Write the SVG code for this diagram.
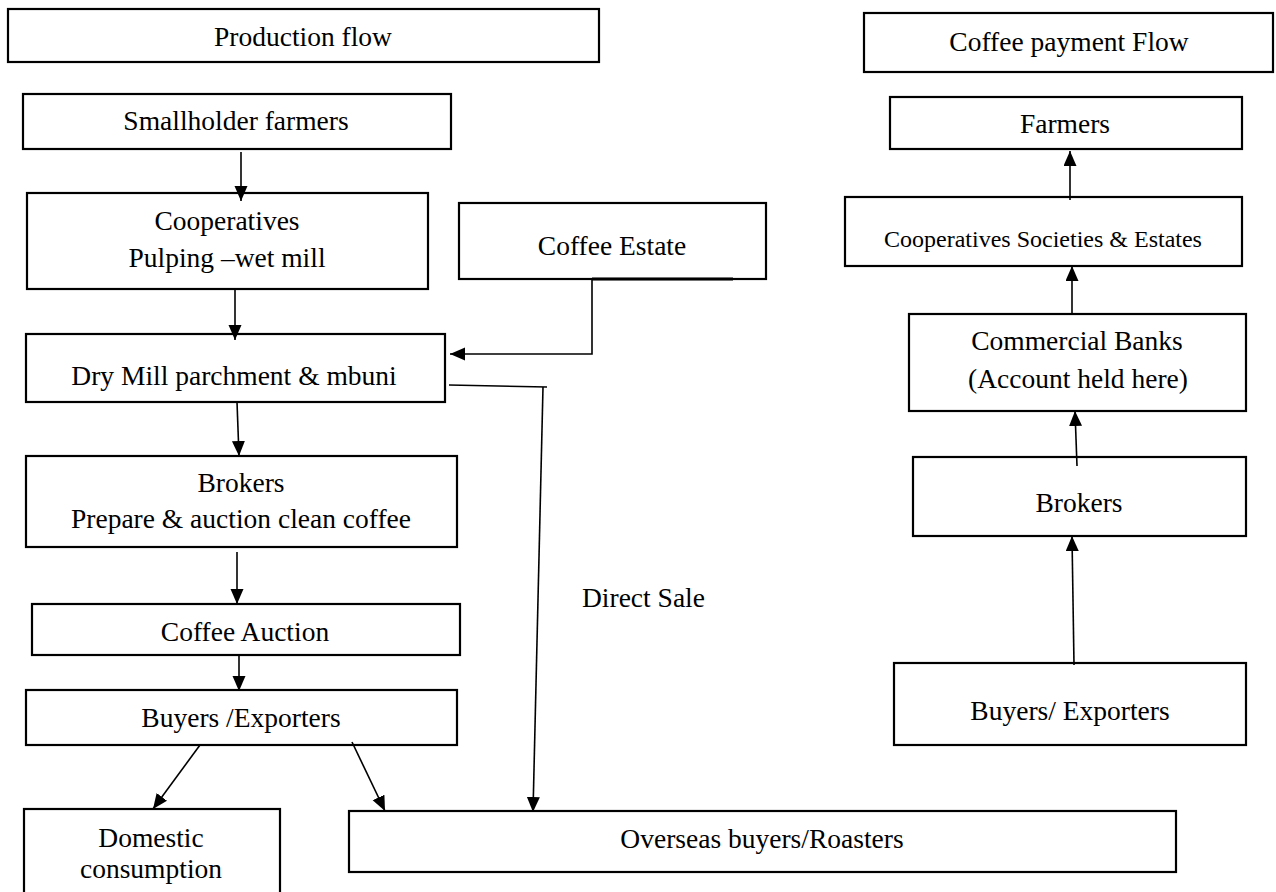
<svg xmlns="http://www.w3.org/2000/svg" width="1276" height="892" viewBox="0 0 1276 892">
<style>
  .box { fill: #ffffff; stroke: #000000; stroke-width: 2.2; }
  .t { font-family: "Liberation Serif", "Times New Roman", serif; font-size: 27.5px; fill: #000000; text-anchor: middle; }
  .ts { font-size: 24px; }
  .c { fill: none; stroke: #000000; stroke-width: 1.6; }
  .arr { marker-end: url(#ah); }
</style>
<defs>
  <marker id="ah" markerUnits="userSpaceOnUse" markerWidth="16" markerHeight="14" refX="15" refY="6.5" orient="auto">
    <path d="M0,0 L15,6.5 L0,13 z" fill="#000000"/>
  </marker>
</defs>
<rect width="1276" height="892" fill="#ffffff"/>

<g id="production-flow-title">
  <rect class="box" x="8" y="9" width="591" height="53"/>
  <text class="t" x="303" y="46">Production flow</text>
</g>
<g id="smallholder-farmers">
  <rect class="box" x="23" y="94" width="428" height="55"/>
  <text class="t" x="236" y="130">Smallholder farmers</text>
</g>
<g id="cooperatives">
  <rect class="box" x="27" y="193" width="401" height="96"/>
  <text class="t" x="227" y="230">Cooperatives</text>
  <text class="t" x="227" y="267">Pulping –wet mill</text>
</g>
<g id="coffee-estate">
  <rect class="box" x="459" y="203" width="307" height="76"/>
  <line x1="592" y1="279" x2="733" y2="279" stroke="#000000" stroke-width="3.2"/>
  <text class="t" x="612" y="255">Coffee Estate</text>
</g>
<g id="dry-mill">
  <rect class="box" x="26" y="334" width="419" height="68"/>
  <text class="t" x="234" y="385">Dry Mill parchment &amp; mbuni</text>
</g>
<g id="brokers-left">
  <rect class="box" x="26" y="456" width="431" height="91"/>
  <text class="t" x="241" y="492">Brokers</text>
  <text class="t" x="241" y="528">Prepare &amp; auction clean coffee</text>
</g>
<g id="coffee-auction">
  <rect class="box" x="32" y="604" width="428" height="51"/>
  <text class="t" x="245" y="641">Coffee Auction</text>
</g>
<g id="buyers-exporters-left">
  <rect class="box" x="26" y="690" width="431" height="55"/>
  <text class="t" x="241" y="727">Buyers /Exporters</text>
</g>
<g id="domestic-consumption">
  <rect class="box" x="24" y="809" width="256" height="95"/>
  <text class="t" x="151" y="847">Domestic</text>
  <text class="t" x="151" y="878">consumption</text>
</g>
<g id="overseas-buyers">
  <rect class="box" x="349" y="811" width="827" height="61"/>
  <text class="t" x="762" y="848">Overseas buyers/Roasters</text>
</g>
<g id="direct-sale-label">
  <text class="t" x="582" y="607" style="text-anchor:start">Direct Sale</text>
</g>

<g id="payment-flow-title">
  <rect class="box" x="864" y="13" width="409" height="59"/>
  <text class="t" x="1069" y="51">Coffee payment Flow</text>
</g>
<g id="farmers">
  <rect class="box" x="890" y="97" width="352" height="52"/>
  <text class="t" x="1065" y="133">Farmers</text>
</g>
<g id="cooperative-societies">
  <rect class="box" x="845" y="197" width="397" height="69"/>
  <text class="t ts" x="1043" y="247">Cooperatives Societies &amp; Estates</text>
</g>
<g id="commercial-banks">
  <rect class="box" x="909" y="314" width="337" height="97"/>
  <text class="t" x="1077" y="350">Commercial Banks</text>
  <text class="t" x="1078" y="388">(Account held here)</text>
</g>
<g id="brokers-right">
  <rect class="box" x="913" y="457" width="333" height="79"/>
  <text class="t" x="1079" y="512">Brokers</text>
</g>
<g id="buyers-exporters-right">
  <rect class="box" x="894" y="663" width="352" height="82"/>
  <text class="t" x="1070" y="720">Buyers/ Exporters</text>
</g>

<g id="connectors">
  <line class="c arr" x1="241" y1="152" x2="241" y2="201"/>
  <line class="c arr" x1="235" y1="290" x2="235" y2="340"/>
  <polyline class="c arr" points="592,279 592,354 450,354"/>
  <line class="c arr" x1="237" y1="402" x2="239" y2="456"/>
  <line class="c arr" x1="237" y1="552" x2="237" y2="604"/>
  <line class="c arr" x1="239" y1="655" x2="239" y2="691"/>
  <line class="c arr" x1="200" y1="745" x2="153" y2="809"/>
  <line class="c arr" x1="352" y1="742" x2="385" y2="811"/>
  <line class="c" x1="449" y1="385" x2="547" y2="387"/>
  <line class="c arr" x1="543" y1="387" x2="533" y2="812"/>
  <line class="c arr" x1="1070" y1="200" x2="1070" y2="151"/>
  <line class="c arr" x1="1072" y1="313" x2="1072" y2="266"/>
  <line class="c arr" x1="1077" y1="466" x2="1075" y2="411"/>
  <line class="c arr" x1="1074" y1="665" x2="1072" y2="536"/>
</g>
</svg>
